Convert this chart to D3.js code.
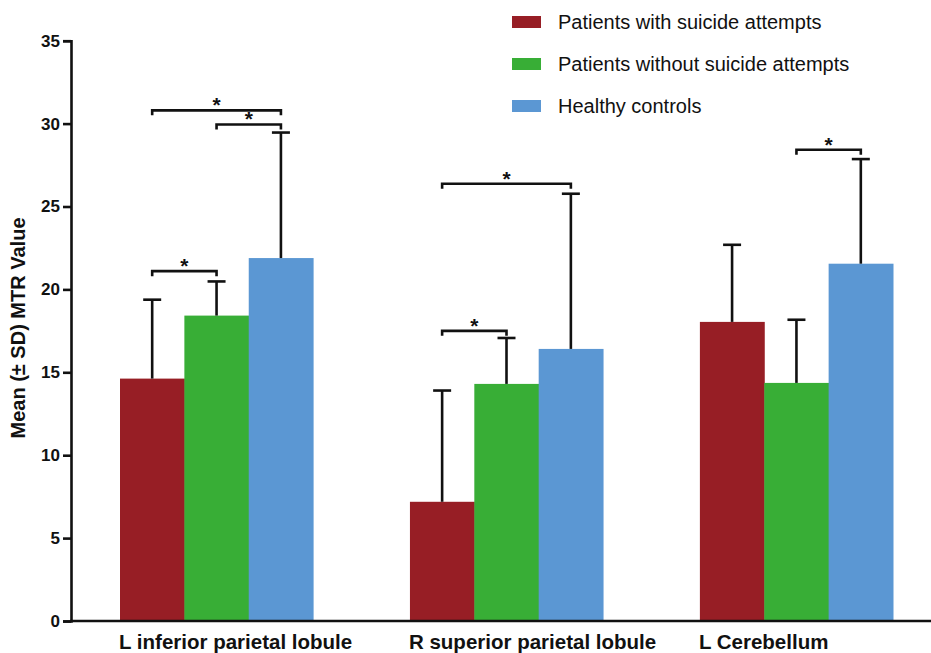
<!DOCTYPE html>
<html>
<head>
<meta charset="utf-8">
<script src="https://cdn.jsdelivr.net/npm/d3@7"></script>
<style>
  html, body { margin: 0; padding: 0; background: #fff; }
  svg { display: block; font-family: "Liberation Sans", Arial, sans-serif; }
</style>
</head>
<body>
<svg id="chart" width="931" height="653"></svg>
<script>
// ── data ────────────────────────────────────────────────────────────────
const regions = ["L inferior parietal lobule", "R superior parietal lobule", "L Cerebellum"];
const groups  = ["Patients with suicide attempts", "Patients without suicide attempts", "Healthy controls"];
const COLORS  = ["#971e25", "#38ae36", "#5b97d3"];

// mean per region, one array per group
const meanSuicide   = [14.62, 7.19, 18.04];
const meanNoSuicide = [18.42, 14.30, 14.36];
const meanHealthy   = [21.89, 16.41, 21.55];
// mean + SD (top of error bar)
const topSuicide    = [19.38, 13.90, 22.69];
const topNoSuicide  = [20.48, 17.07, 18.17];
const topHealthy    = [29.46, 25.77, 27.86];

// significance brackets: region index, from group, to group, level
const sigRegion = [0, 0, 0, 1, 1, 2];
const sigFrom   = [0, 1, 0, 0, 0, 1];
const sigTo     = [2, 2, 1, 2, 1, 2];
const sigLevel  = [30.8, 29.95, 21.1, 26.37, 17.5, 28.42];

const yTicks = [0, 5, 10, 15, 20, 25, 30, 35];

// ── build ───────────────────────────────────────────────────────────────
const means = [meanSuicide, meanNoSuicide, meanHealthy];
const tops  = [topSuicide, topNoSuicide, topHealthy];

const bars = [];
regions.forEach((r, ri) => {
  groups.forEach((g, gi) => {
    bars.push({ region: r, group: g, gi, mean: means[gi][ri], top: tops[gi][ri] });
  });
});

const svg = d3.select("#chart");

const y = d3.scaleLinear().domain([0, 35]).range([621, 40.7]);

const x0 = d3.scaleBand()
  .domain(regions)
  .range([71, 942])
  .paddingInner(0.334)
  .paddingOuter(0.169);

const x1 = d3.scaleBand()
  .domain(groups)
  .range([0, x0.bandwidth()]);

const cx = (ri, gi) => x0(regions[ri]) + x1(groups[gi]) + x1.bandwidth() / 2;

// bars
svg.append("g").selectAll("rect")
  .data(bars).enter().append("rect")
  .attr("x", d => x0(d.region) + x1(d.group))
  .attr("y", d => y(d.mean))
  .attr("width", x1.bandwidth() + 0.5)
  .attr("height", d => y(0) - y(d.mean))
  .attr("fill", d => COLORS[d.gi]);

// error bars (upper only)
const err = svg.append("g").attr("stroke", "#111").attr("stroke-width", 2.6);
bars.forEach(d => {
  const xc = x0(d.region) + x1(d.group) + x1.bandwidth() / 2;
  err.append("line")
    .attr("x1", xc).attr("x2", xc)
    .attr("y1", y(d.mean)).attr("y2", y(d.top));
  err.append("line")
    .attr("x1", xc - 9).attr("x2", xc + 9)
    .attr("y1", y(d.top)).attr("y2", y(d.top));
});

// significance brackets
const sig = svg.append("g");
sigLevel.forEach((lv, i) => {
  const xa = cx(sigRegion[i], sigFrom[i]);
  const xb = cx(sigRegion[i], sigTo[i]);
  const yy = y(lv);
  sig.append("path")
    .attr("d", `M${xa},${yy + 5}V${yy}H${xb}V${yy + 5}`)
    .attr("fill", "none")
    .attr("stroke", "#111")
    .attr("stroke-width", 2.6);
  sig.append("text")
    .attr("x", (xa + xb) / 2)
    .attr("y", yy + 2)
    .attr("text-anchor", "middle")
    .attr("font-size", 21)
    .attr("font-weight", "bold")
    .attr("fill", "#111")
    .text("*");
});

// y axis
const yAxis = svg.append("g")
  .attr("transform", "translate(71,0)")
  .call(d3.axisLeft(y).tickValues(yTicks).tickSize(8).tickPadding(3));
yAxis.select(".domain").attr("stroke", "#111").attr("stroke-width", 2.6);
yAxis.selectAll(".tick line").attr("stroke", "#111").attr("stroke-width", 2.6);
yAxis.selectAll(".tick text")
  .attr("font-size", 17).attr("font-weight", "bold")
  .attr("fill", "#111")
  .attr("font-family", "'Liberation Sans', Arial, sans-serif");

// x axis line
svg.append("line")
  .attr("x1", 70).attr("x2", 931)
  .attr("y1", y(0)).attr("y2", y(0))
  .attr("stroke", "#111").attr("stroke-width", 2.6);

// x labels (left aligned to each group)
svg.append("g").selectAll("text")
  .data(regions).enter().append("text")
  .attr("x", d => x0(d) - 1)
  .attr("y", 649)
  .attr("font-size", 20.5)
  .attr("font-weight", "bold")
  .attr("fill", "#111")
  .text(d => d);

// y title
svg.append("text")
  .attr("transform", "translate(25,328) rotate(-90)")
  .attr("text-anchor", "middle")
  .attr("font-size", 20)
  .attr("font-weight", "bold")
  .attr("fill", "#111")
  .text("Mean (± SD) MTR Value");

// legend
const legend = svg.append("g").attr("transform", "translate(512,22)");
groups.forEach((g, i) => {
  const row = legend.append("g").attr("transform", `translate(0,${i * 42})`);
  row.append("rect")
    .attr("x", 0).attr("y", -6)
    .attr("width", 29).attr("height", 12)
    .attr("fill", COLORS[i]);
  row.append("text")
    .attr("x", 46).attr("y", 7)
    .attr("font-size", 20)
    .attr("fill", "#111")
    .text(g);
});
</script>
</body>
</html>
